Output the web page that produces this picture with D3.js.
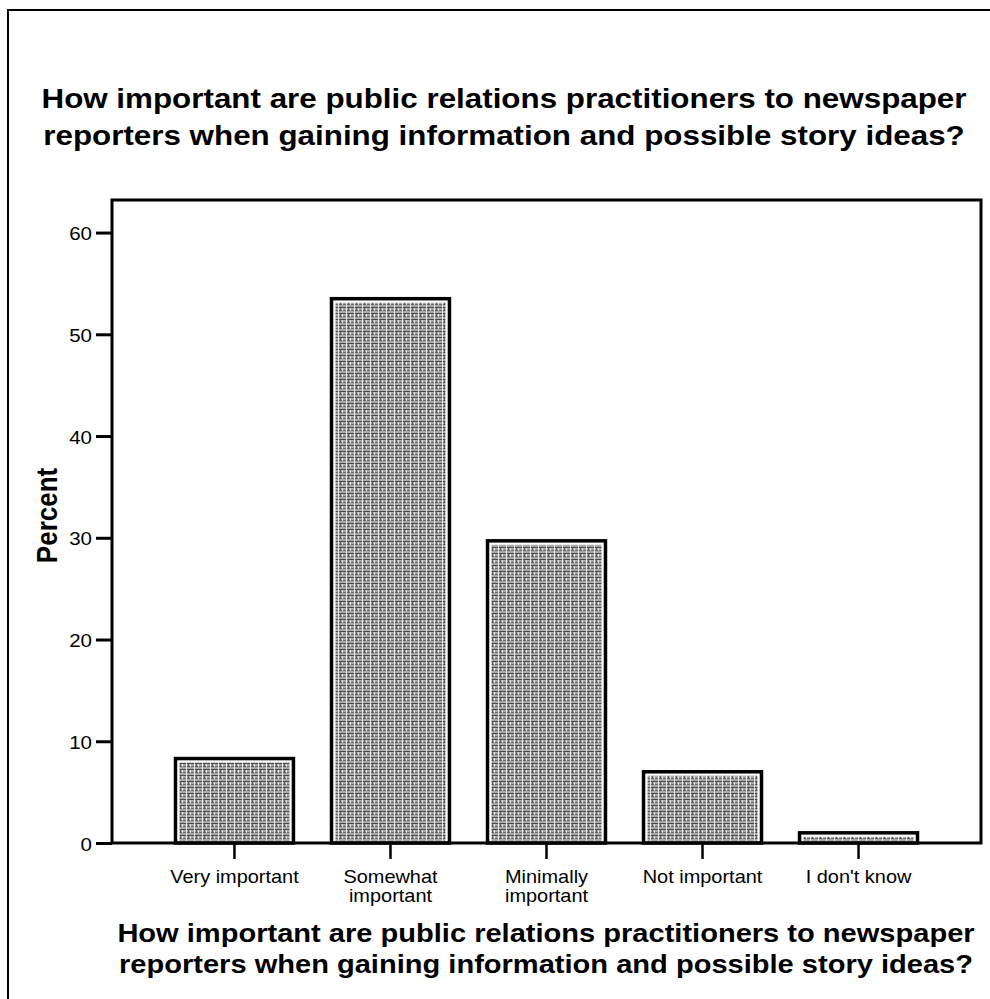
<!DOCTYPE html>
<html>
<head>
<meta charset="utf-8">
<script src="https://cdn.jsdelivr.net/npm/d3@7"></script>
<style>
  html, body { margin: 0; padding: 0; background: #fff; }
  svg { display: block; font-family: "Liberation Sans", Arial, sans-serif; }
</style>
</head>
<body>
<svg id="chart" width="990" height="999"></svg>
<script>
// chart values
const categories = ['Very important', 'Somewhat important', 'Minimally important', 'Not important', "I don't know"]
const percents = [8.3, 53.5, 29.7, 7.0, 1.0]
const yTicks = [0, 10, 20, 30, 40, 50, 60]
const tickLabelLines = [['Very important'], ['Somewhat', 'important'], ['Minimally', 'important'], ['Not important'], ["I don't know"]]
const titleLines = ['How important are public relations practitioners to newspaper', 'reporters when gaining information and possible story ideas?']
const yLabel = 'Percent'

const svg = d3.select('#chart')
const plot = { left: 112, top: 200, right: 981, bottom: 843 }
const stretch = 1.14 // the scan is a bit wider than tall

// grainy grey texture for the bars
const defs = svg.append('defs')
const pat = defs.append('pattern')
  .attr('id', 'grain')
  .attr('patternUnits', 'userSpaceOnUse')
  .attr('width', 8)
  .attr('height', 6)
pat.append('rect').attr('width', 8).attr('height', 6).attr('fill', '#a8a8a8')
pat.append('rect').attr('y', 1).attr('width', 8).attr('height', 1).attr('fill', '#4a4a4a')
pat.append('rect').attr('y', 4).attr('width', 8).attr('height', 1).attr('fill', '#6a6a6a')
pat.append('rect').attr('x', 2).attr('width', 1).attr('height', 6).attr('fill', '#ffffff').attr('opacity', 0.8)
pat.append('rect').attr('x', 6).attr('y', 2).attr('width', 1).attr('height', 3).attr('fill', '#ffffff').attr('opacity', 0.7)
pat.append('rect').attr('x', 4).attr('y', 2).attr('width', 1).attr('height', 3).attr('fill', '#333').attr('opacity', 0.6)

// outer frame of the figure
svg.append('rect')
  .attr('x', 8).attr('y', 10)
  .attr('width', 1000).attr('height', 1000)
  .attr('fill', 'none').attr('stroke', '#000').attr('stroke-width', 2)

const x = d3.scaleBand()
  .domain(categories)
  .range([plot.left, plot.right])
  .paddingInner(0.244)
  .paddingOuter(0.407)

const y = d3.scaleLinear()
  .domain([0, 63.2])
  .range([plot.bottom, plot.top])

// title
const title = svg.append('g')
titleLines.forEach((t, i) => {
  title.append('text')
    .attr('transform', 'translate(504,' + (108 + i * 37) + ') scale(1.12,1)')
    .attr('text-anchor', 'middle')
    .attr('font-size', 28)
    .attr('font-weight', 'bold')
    .text(t)
})

// bars
const bars = svg.append('g')
  .selectAll('g')
  .data(categories)
  .join('g')

bars.append('rect')
  .attr('x', d => x(d))
  .attr('y', (d, i) => y(percents[i]))
  .attr('width', x.bandwidth())
  .attr('height', (d, i) => y(0) - y(percents[i]))
  .attr('fill', '#fff')
  .attr('stroke', '#000')
  .attr('stroke-width', 3.5)

bars.append('rect')
  .attr('x', d => x(d) + 4)
  .attr('y', (d, i) => y(percents[i]) + 4)
  .attr('width', x.bandwidth() - 8)
  .attr('height', (d, i) => Math.max(0, y(0) - y(percents[i]) - 6))
  .attr('fill', 'url(#grain)')

// y axis
const yAxis = svg.append('g')
  .attr('transform', 'translate(' + plot.left + ',0)')
  .call(d3.axisLeft(y).tickValues(yTicks).tickSize(16).tickSizeOuter(0))
yAxis.select('.domain').remove()
yAxis.selectAll('.tick line').attr('stroke', '#000').attr('stroke-width', 3)
yAxis.selectAll('.tick text')
  .attr('x', null)
  .attr('dy', null)
  .attr('transform', 'translate(-20,7) scale(' + stretch + ',1)')
  .attr('font-size', 18)
  .attr('font-family', '"Liberation Sans", Arial, sans-serif')
  .attr('fill', '#000')

// x axis
const xAxis = svg.append('g')
  .attr('transform', 'translate(0,' + plot.bottom + ')')
  .call(d3.axisBottom(x).tickSize(16).tickSizeOuter(0).tickFormat(''))
xAxis.select('.domain').remove()
xAxis.selectAll('.tick line').attr('stroke', '#000').attr('stroke-width', 2.5)
xAxis.selectAll('.tick')
  .each(function (d, i) {
    tickLabelLines[i].forEach((line, j) => {
      d3.select(this).append('text')
        .attr('transform', 'translate(0,' + (40 + j * 19) + ') scale(' + stretch + ',1)')
        .attr('text-anchor', 'middle')
        .attr('font-size', 17.5)
        .attr('font-family', '"Liberation Sans", Arial, sans-serif')
        .attr('fill', '#000')
        .text(line)
    })
  })

// plot frame
svg.append('rect')
  .attr('x', plot.left).attr('y', plot.top)
  .attr('width', plot.right - plot.left)
  .attr('height', plot.bottom - plot.top)
  .attr('fill', 'none').attr('stroke', '#000').attr('stroke-width', 3)

// axis titles
svg.append('text')
  .attr('transform', 'translate(57,' + ((plot.top + plot.bottom) / 2 - 6) + ') scale(' + stretch + ',1) rotate(-90)')
  .attr('text-anchor', 'middle')
  .attr('font-size', 26)
  .attr('font-weight', 'bold')
  .text(yLabel)

titleLines.forEach((t, i) => {
  svg.append('text')
    .attr('transform', 'translate(546,' + (942 + i * 31) + ') scale(' + stretch + ',1)')
    .attr('text-anchor', 'middle')
    .attr('font-size', 25.5)
    .attr('font-weight', 'bold')
    .text(t)
})
</script>
</body>
</html>
